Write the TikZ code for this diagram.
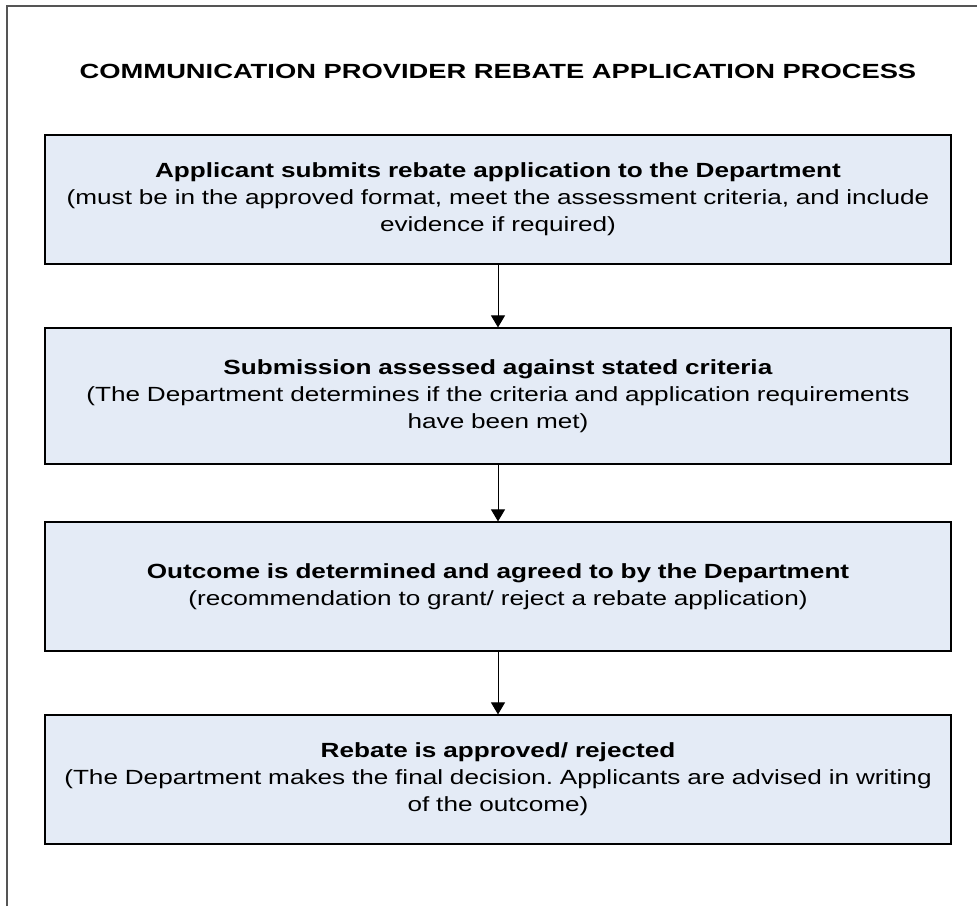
\documentclass[tikz,border=0pt]{standalone}
\usepackage{fontspec}
\setmainfont{Liberation Sans}[FakeStretch=1.275]
\newfontfamily\titlefont{Liberation Sans}[FakeStretch=1.333]
\usetikzlibrary{arrows.meta}
\definecolor{boxfill}{HTML}{E4EBF6}
\definecolor{framegray}{HTML}{555555}
\tikzset{
  stepbox/.style={draw=black, line width=1.2pt, fill=boxfill, rectangle,
    minimum width=906pt, minimum height=129pt, text width=900pt, align=center,
    inner sep=0pt, font=\fontsize{20.5pt}{27pt}\selectfont\frenchspacing},
  flow/.style={draw=black, line width=1pt, -{Triangle[width=14pt,length=12pt]}},
  ttl/.style={font=\titlefont\fontsize{20.5pt}{27pt}\selectfont\bfseries}
}
\begin{document}
\frenchspacing
\begin{tikzpicture}[x=1pt,y=-1pt]
\useasboundingbox (0,0) rectangle (977,906);
\draw[framegray, line width=1.3pt] (7,906) -- (7,6) -- (977,6);
\node[ttl] (title) at (498,71) {COMMUNICATION PROVIDER REBATE APPLICATION PROCESS};
\node[stepbox] (b1) at (498,199.5) {\textbf{Applicant submits rebate application to the Department}\\(must be in the approved format, meet the assessment criteria, and include\\evidence if required)};
\node[stepbox, minimum height=136pt] (b2) at (498,396) {\textbf{Submission assessed against stated criteria}\\(The Department determines if the criteria and application requirements\\have been met)};
\node[stepbox] (b3) at (498,586.5) {\textbf{Outcome is determined and agreed to by the Department}\\(recommendation to grant/ reject a rebate application)};
\node[stepbox] (b4) at (498,779.5) {\textbf{Rebate is approved/ rejected}\\(The Department makes the final decision. Applicants are advised in writing\\of the outcome)};
\draw[flow] (b1) -- (b2);
\draw[flow] (b2) -- (b3);
\draw[flow] (b3) -- (b4);
\end{tikzpicture}
\end{document}
